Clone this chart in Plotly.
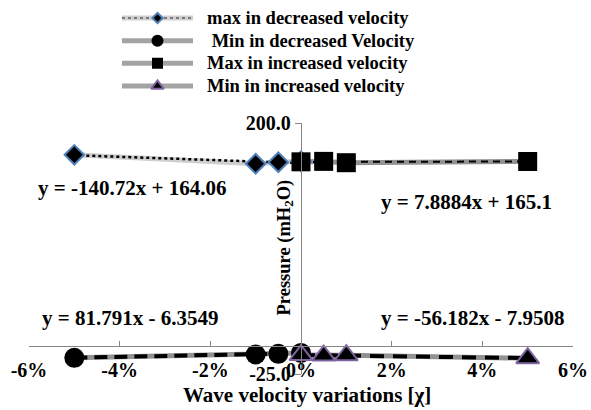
import plotly.graph_objects as go

# ---- data -------------------------------------------------------------
x_decreased = [-0.05, -0.01, -0.005, 0.0]
x_increased = [0.0, 0.005, 0.01, 0.05]

max_decreased = [171.5, 163.5, 164.8, 165.7]
min_decreased = [-10.5, -7.5, -6.9, -6.1]
max_increased = [165.2, 165.6, 164.4, 165.5]
min_increased = [-8.0, -8.5, -8.2, -10.8]

# linear trendline coefficients (slope, intercept) per series
trend_slopes = [-140.72, 81.791, 7.8884, -56.182]
trend_intercepts = [164.06, -6.3549, 165.1, -7.9508]

series_names = ["max in decreased velocity", "\u00a0Min in decreased Velocity",
                "Max in increased velocity", "Min in increased velocity"]

x_tickvals = [-0.06, -0.04, -0.02, 0.0, 0.02, 0.04, 0.06]
x_ticktext = ["-6%", "-4%", "-2%", "0%", "2%", "4%", "6%"]
y_tickvals = [-25, 200]
y_ticktext = ["-25.0", "200.0"]
x_range = [-0.06, 0.06]
y_range = [-25, 200]

# ---- layout helpers ---------------------------------------------------
W, H = 591, 410
FONT = "'Liberation Serif', 'Times New Roman', Times, serif"
AXIS_GREY = "#868686"
LINE_GREY = "#929292"


def px(x):
    return x / W


def py(y):
    return 1 - y / H


x_dom = [px(29), px(573)]
y_dom = [py(374), py(123)]
# paper position of the y = 0 level, where the horizontal axis crosses
x_axis_pos = y_dom[0] + (0 - y_range[0]) / (y_range[1] - y_range[0]) * (y_dom[1] - y_dom[0])
y_axis_pos = x_dom[0] + (0 - x_range[0]) / (x_range[1] - x_range[0]) * (x_dom[1] - x_dom[0])

series = [
    dict(x=x_decreased, y=max_decreased, band="#cfcfcf", symbol="diamond", size=15,
         edge="#4F81BD", edge_w=2, trend_dash="dot", trend_w=2.5,
         leg_size=8),
    dict(x=x_decreased, y=min_decreased, band=LINE_GREY, symbol="circle", size=20,
         edge="black", edge_w=0, trend_dash="13px,7px", trend_w=4,
         leg_size=12),
    dict(x=x_increased, y=max_increased, band=LINE_GREY, symbol="square", size=19,
         edge="black", edge_w=0, trend_dash="7px,5px", trend_w=2,
         leg_size=11),
    dict(x=x_increased, y=min_increased, band=LINE_GREY, symbol="triangle-up", size=20,
         edge="#8064A2", edge_w=2, trend_dash="14px,9px", trend_w=4,
         leg_size=11),
]

fig = go.Figure()

# grey connecting lines of every series
for s in series:
    fig.add_trace(go.Scatter(x=s["x"], y=s["y"], mode="lines",
                             line=dict(color=s["band"], width=5),
                             showlegend=False, hoverinfo="skip"))

# linear trendlines from their fitted equations
for s, m, b in zip(series, trend_slopes, trend_intercepts):
    ty = [m * xv + b for xv in s["x"]]
    fig.add_trace(go.Scatter(x=s["x"], y=ty, mode="lines",
                             line=dict(color="black", width=s["trend_w"], dash=s["trend_dash"]),
                             showlegend=False, hoverinfo="skip"))

# markers on top
for s, name in zip(series, series_names):
    fig.add_trace(go.Scatter(x=s["x"], y=s["y"], mode="markers", name=name.strip(),
                             marker=dict(symbol=s["symbol"], size=s["size"], color="black",
                                         line=dict(color=s["edge"], width=s["edge_w"])),
                             showlegend=False))

# ---- hand-built legend (swatches on a hidden helper axis) ---------------
for i, (s, name) in enumerate(zip(series, series_names)):
    fig.add_trace(go.Scatter(x=[0, 1], y=[i, i], mode="lines", xaxis="x3", yaxis="y3",
                             line=dict(color="#d0d0d0" if i == 0 else "#a3a3a3", width=5),
                             showlegend=False, hoverinfo="skip"))
    if i == 0:
        fig.add_trace(go.Scatter(x=[0, 1], y=[i, i], mode="lines", xaxis="x3", yaxis="y3",
                                 line=dict(color="#7a7a7a", width=2, dash="dot"),
                                 showlegend=False, hoverinfo="skip"))
    fig.add_trace(go.Scatter(x=[0.5], y=[i], mode="markers", xaxis="x3", yaxis="y3",
                             marker=dict(symbol=s["symbol"], size=s["leg_size"], color="black",
                                         line=dict(color=s["edge"], width=s["edge_w"])),
                             showlegend=False, hoverinfo="skip"))

annotations = []
for i, name in enumerate(series_names):
    annotations.append(dict(x=px(205), y=i, xref="paper", yref="y3", text=name,
                            xanchor="left", yanchor="middle", showarrow=False,
                            font=dict(family=FONT, size=18.5, color="black", weight="bold")))


def eq_text(m, b):
    sign = "+" if b >= 0 else "-"
    return f"y = {m:g}x {sign} {abs(b):g}"


eq_pos = [(131.5, 188), (130, 318), (466, 202), (472, 318)]
for (ex, ey), m, b in zip(eq_pos, trend_slopes, trend_intercepts):
    annotations.append(dict(x=px(ex), y=py(ey), xref="paper", yref="paper",
                            text=eq_text(m, b), showarrow=False,
                            xanchor="center", yanchor="middle",
                            font=dict(family=FONT, size=21, color="black", weight="bold")))

# axis titles
annotations.append(dict(x=px(307), y=py(395), xref="paper", yref="paper",
                        text="Wave velocity variations [χ]", showarrow=False,
                        xanchor="center", yanchor="middle",
                        font=dict(family=FONT, size=21, color="black", weight="bold")))
annotations.append(dict(x=px(284.5), y=py(248), xref="paper", yref="paper",
                        text="Pressure (mH<sub>2</sub>O)", textangle=-90, showarrow=False,
                        xanchor="center", yanchor="middle",
                        font=dict(family=FONT, size=18.5, color="black", weight="bold")))

row_step = 22.67
leg_top = 18 - row_step / 2
leg_bot = 18 + 3 * row_step + row_step / 2

fig.update_layout(
    width=W, height=H,
    margin=dict(l=0, r=0, t=0, b=0, pad=0, autoexpand=False),
    paper_bgcolor="white", plot_bgcolor="white",
    showlegend=False,
    xaxis=dict(range=x_range, domain=x_dom, anchor="free", position=x_axis_pos,
               automargin=False,
               showline=True, linecolor=AXIS_GREY, linewidth=1.3,
               ticks="inside", ticklen=5, tickcolor=AXIS_GREY, tickwidth=1.3,
               tickvals=x_tickvals, ticktext=x_ticktext, ticklabelstandoff=6,
               showgrid=False, zeroline=False,
               tickfont=dict(family=FONT, size=20, color="black", weight="bold")),
    yaxis=dict(range=y_range, domain=y_dom, anchor="free", position=y_axis_pos,
               automargin=False,
               showline=True, linecolor=AXIS_GREY, linewidth=1.3,
               ticks="outside", ticklen=6, tickcolor=AXIS_GREY, tickwidth=1.3,
               tickvals=y_tickvals, ticktext=y_ticktext,
               showgrid=False, zeroline=False,
               tickfont=dict(family=FONT, size=20, color="black", weight="bold")),
    xaxis3=dict(domain=[px(122), px(193)], range=[0, 1], anchor="y3", visible=False,
                automargin=False),
    yaxis3=dict(domain=[py(leg_bot), py(leg_top)], range=[3.5, -0.5], anchor="x3",
                visible=False, automargin=False),
    annotations=annotations,
)

fig.write_html("out.html")
